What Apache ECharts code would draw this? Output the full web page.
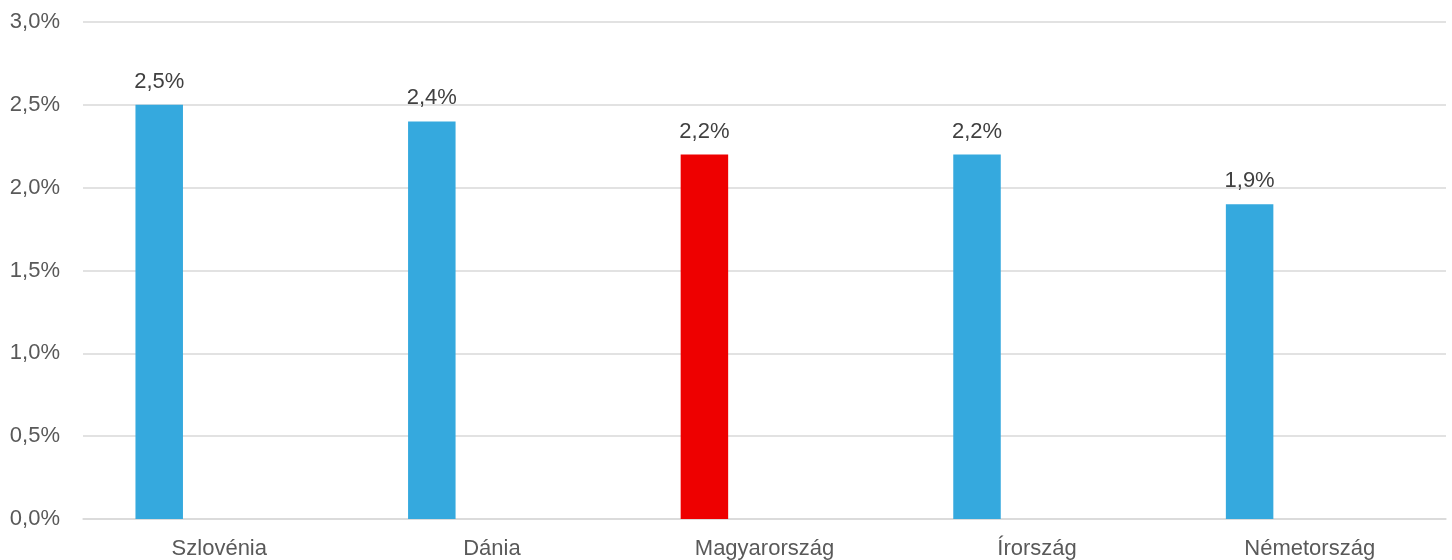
<!DOCTYPE html>
<html>
<head>
<meta charset="utf-8">
<script src="https://cdn.jsdelivr.net/npm/echarts@6/dist/echarts.min.js"></script>
<style>html,body{margin:0;padding:0;background:#fff}#c{width:1452px;height:560px}</style>
</head>
<body>
<div id="c"></div>
<script>
const categories = ['Szlovénia', 'Dánia', 'Magyarország', 'Írország', 'Németország'];
const values = [2.5, 2.4, 2.2, 2.2, 1.9];
const highlight = 'Magyarország';
const yTicks = { min: 0, max: 3, interval: 0.5 };

const fmt = v => Number(v).toFixed(1).replace('.', ',') + '%';
const chart = echarts.init(document.getElementById('c'));
chart.setOption({
  animation: false,
  grid: { left: 83, right: 6, top: 22, bottom: 41, containLabel: false, outerBoundsMode: 'none' },
  xAxis: {
    type: 'category',
    data: categories,
    axisTick: { show: false },
    axisLine: { lineStyle: { color: '#d9d9d9', width: 1.5 } },
    axisLabel: { color: '#595959', fontSize: 22, fontFamily: 'Liberation Sans', margin: 19 }
  },
  yAxis: {
    type: 'value',
    min: yTicks.min, max: yTicks.max, interval: yTicks.interval,
    axisLine: { show: false },
    axisTick: { show: false },
    splitLine: { lineStyle: { color: '#d9d9d9', width: 1.5 } },
    axisLabel: { color: '#595959', fontSize: 22, fontFamily: 'Liberation Sans', margin: 23, formatter: fmt }
  },
  series: [
    {
      type: 'bar',
      barWidth: 47.5,
      barGap: '153%',
      data: values.map((v, i) => ({
        value: v,
        itemStyle: { color: categories[i] === highlight ? '#EE0000' : '#35A9DE' }
      })),
      label: {
        show: true, position: 'top', distance: 12,
        color: '#404040', fontSize: 22, fontFamily: 'Liberation Sans',
        formatter: p => fmt(p.value)
      }
    },
    {
      type: 'bar',
      barWidth: 47.5,
      data: categories.map(() => null)
    }
  ]
});
</script>
</body>
</html>
